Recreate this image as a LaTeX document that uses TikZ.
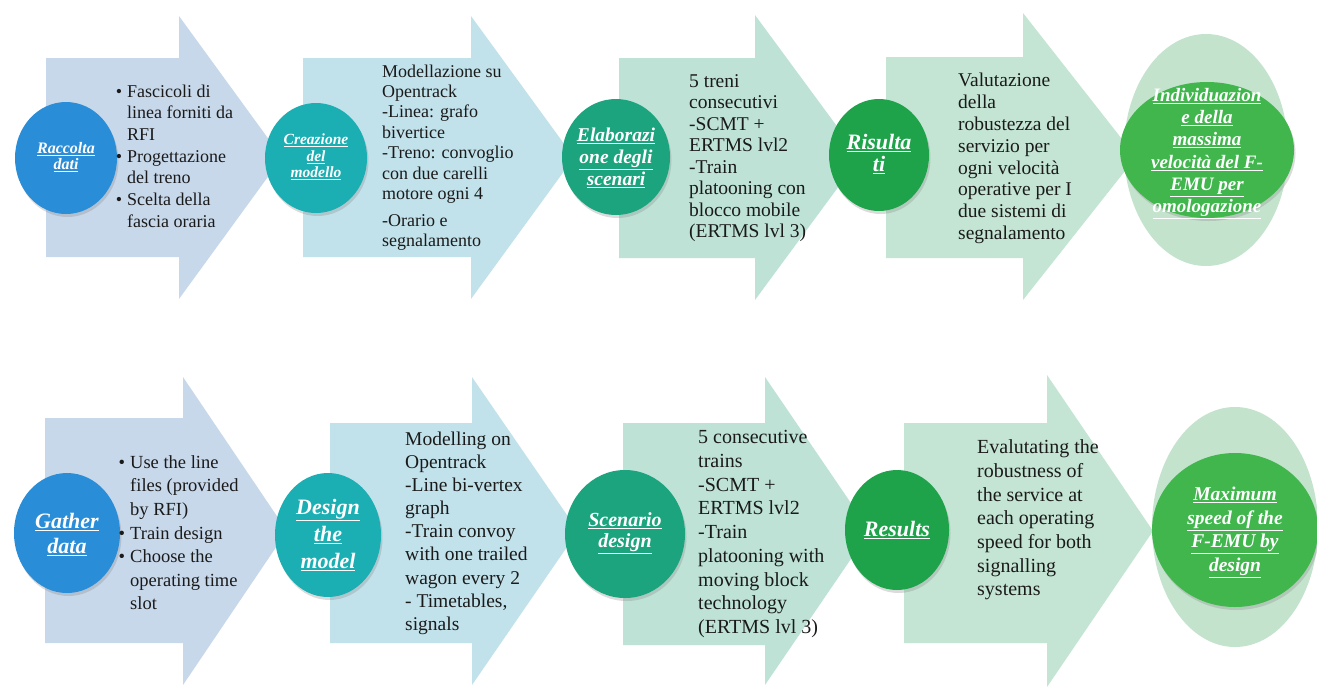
\documentclass[tikz,border=0pt]{standalone}
\usepackage{fontspec}
\setmainfont{Liberation Serif}
\usetikzlibrary{shapes.geometric,shadows}
\definecolor{arA}{HTML}{C8D8EB}
\definecolor{arB}{HTML}{C2E2EB}
\definecolor{arC}{HTML}{BEE3D6}
\definecolor{arD}{HTML}{C4E5D4}
\definecolor{halo}{HTML}{C4E3CD}
\definecolor{cA}{HTML}{2A8DD8}
\definecolor{cB}{HTML}{1BAEB3}
\definecolor{cC}{HTML}{1CA47F}
\definecolor{cD}{HTML}{1EA34B}
\definecolor{cE}{HTML}{40B64D}
\definecolor{ink}{HTML}{1A1A1A}
\newcommand{\bul}{\llap{•\hspace{5pt}}}
\newcommand{\ul}[1]{\underline{#1}}
\tikzset{
  blob/.style={ellipse, draw=none, inner sep=0pt,
    drop shadow={opacity=0.28, shadow xshift=1.5pt, shadow yshift=-3pt}},
  haloshape/.style={ellipse, draw=none, inner sep=0pt, fill=halo},
  lbl/.style={text=white, align=center, inner sep=0pt},
  body/.style={text=ink, align=left, anchor=north west, inner sep=0pt},
}
\begin{document}
\begin{tikzpicture}[x=1pt,y=-1pt]
\useasboundingbox (0,0) rectangle (1317,686);
\fill[white] (0,0) rectangle (1317,686);

% ---------- top row arrows ----------
\fill[arA] (46,58) -- (179,58) -- (179,16) -- (282,157.5) -- (179,299) -- (179,257) -- (46,257) -- cycle;
\fill[arB] (303,58) -- (471,58) -- (471,16) -- (574,157.5) -- (471,299) -- (471,257) -- (303,257) -- cycle;
\fill[arC] (619,58) -- (755,58) -- (755,15) -- (860,157.5) -- (755,300) -- (755,258) -- (619,258) -- cycle;
\fill[arD] (886,57) -- (1023,57) -- (1023,13) -- (1136,157) -- (1023,300) -- (1023,258) -- (886,258) -- cycle;

% ---------- bottom row arrows ----------
\fill[arA] (45,418) -- (183,418) -- (183,377) -- (287,531) -- (183,685) -- (183,643) -- (45,643) -- cycle;
\fill[arB] (330,423) -- (472,423) -- (472,377) -- (578,531) -- (472,685) -- (472,643) -- (330,643) -- cycle;
\fill[arC] (623,423) -- (765,423) -- (765,377) -- (870,531) -- (765,685) -- (765,645) -- (623,645) -- cycle;
\fill[arD] (904,423) -- (1047,423) -- (1047,375) -- (1153,531) -- (1047,687) -- (1047,643) -- (904,643) -- cycle;

% ---------- top row circles ----------
\node[blob, fill=cA, minimum width=102pt, minimum height=112pt] (c1) at (66,158) {};
\node[blob, fill=cB, minimum width=102pt, minimum height=110pt] (c2) at (316,158) {};
\node[blob, fill=cC, minimum width=108pt, minimum height=116pt] (c3) at (616,157) {};
\node[blob, fill=cD, minimum width=100pt, minimum height=112pt] (c4) at (879,155) {};
\node[haloshape, minimum width=164pt, minimum height=232pt] (h1) at (1206,150) {};
\node[blob, fill=cE, minimum width=174pt, minimum height=136pt] (c5) at (1207,150) {};

% ---------- bottom row circles ----------
\node[blob, fill=cA, minimum width=106pt, minimum height=120pt] (d1) at (67,533) {};
\node[blob, fill=cB, minimum width=106pt, minimum height=124pt] (d2) at (328,535) {};
\node[blob, fill=cC, minimum width=120pt, minimum height=128pt] (d3) at (625,534) {};
\node[blob, fill=cD, minimum width=104pt, minimum height=120pt] (d4) at (897,530) {};
\node[haloshape, minimum width=166pt, minimum height=240pt] (h2) at (1235,527) {};
\node[blob, fill=cE, minimum width=166pt, minimum height=154pt] (d5) at (1235,530) {};

% ---------- circle labels, top ----------
\node[lbl, font={\fontsize{16}{16.5}\selectfont\bfseries\itshape}] (l1) at (66,157) {\ul{Raccolta}\\\ul{dati}};
\node[lbl, font={\fontsize{15.5}{16.5}\selectfont\bfseries\itshape}] (l2) at (316,157) {\ul{Creazione}\\\ul{del}\\\ul{modello}};
\node[lbl, font={\fontsize{19.5}{22}\selectfont\bfseries\itshape}] (l3) at (616,158) {\ul{Elaborazi}\\\ul{one degli}\\\ul{scenari}};
\node[lbl, font={\fontsize{22}{22}\selectfont\bfseries\itshape}] (l4) at (879,154) {\ul{Risulta}\\\ul{ti}};
\node[lbl, font={\fontsize{19}{22.2}\selectfont\bfseries\itshape}] (l5) at (1207,153.5) {\ul{Individuazion}\\\ul{e della}\\\ul{massima}\\\ul{velocità del F-}\\\ul{EMU per}\\\ul{omologazione}};

% ---------- circle labels, bottom ----------
\node[lbl, font={\fontsize{22}{25}\selectfont\bfseries\itshape}] (m1) at (67,534.5) {\ul{Gather}\\\ul{data}};
\node[lbl, font={\fontsize{22}{27}\selectfont\bfseries\itshape}] (m2) at (328,535) {\ul{Design}\\\ul{the}\\\ul{model}};
\node[lbl, font={\fontsize{20}{21}\selectfont\bfseries\itshape}] (m3) at (625,533) {\ul{Scenario}\\\ul{design}};
\node[lbl, font={\fontsize{22}{22}\selectfont\bfseries\itshape}] (m4) at (897,530) {\ul{Results}};
\node[lbl, font={\fontsize{19.5}{23.5}\selectfont\bfseries\itshape}] (m5) at (1235,532.5) {\ul{Maximum}\\\ul{speed of the}\\\ul{F-EMU by}\\\ul{design}};

% ---------- arrow texts, top ----------
\node[body, font={\fontsize{18}{21.7}\selectfont}] (t1) at (127,81.7)
  {\strut\bul Fascicoli di\\linea forniti da\\RFI\\\bul Progettazione\\del treno\\\bul Scelta della\\fascia oraria};
\node[body, font={\fontsize{18}{20.4}\selectfont}] (t2) at (382,62.6)
  {\strut Modellazione su\\Opentrack\\-Linea: grafo\\bivertice\\-Treno: convoglio\\con due carelli\\motore ogni 4\\[6.6pt]-Orario e\\segnalamento};
\node[body, font={\fontsize{19.5}{21.5}\selectfont}] (t3) at (689,72.2)
  {\strut 5 treni\\consecutivi\\-SCMT +\\ERTMS lvl2\\-Train\\platooning con\\blocco mobile\\(ERTMS lvl 3)};
\node[body, font={\fontsize{19.5}{21.9}\selectfont}] (t4) at (958,70.9)
  {\strut Valutazione\\della\\robustezza del\\servizio per\\ogni velocità\\operative per I\\due sistemi di\\segnalamento};

% ---------- arrow texts, bottom ----------
\node[body, font={\fontsize{18.5}{23.6}\selectfont}] (u1) at (130,451.5)
  {\strut\bul Use the line\\files (provided\\by RFI)\\\bul Train design\\\bul Choose the\\operating time\\slot};
\node[body, font={\fontsize{19.5}{23.1}\selectfont}] (u2) at (405,429.1)
  {\strut Modelling on\\Opentrack\\-Line bi-vertex\\graph\\-Train convoy\\with one trailed\\wagon every 2\\- Timetables,\\signals};
\node[body, font={\fontsize{20}{23.75}\selectfont}] (u3) at (698,426.8)
  {\strut 5 consecutive\\trains\\-SCMT +\\ERTMS lvl2\\-Train\\platooning with\\moving block\\technology\\(ERTMS lvl 3)};
\node[body, font={\fontsize{20}{23.7}\selectfont}] (u4) at (977,436.8)
  {\strut Evalutating the\\robustness of\\the service at\\each operating\\speed for both\\signalling\\systems};
\end{tikzpicture}
\end{document}
